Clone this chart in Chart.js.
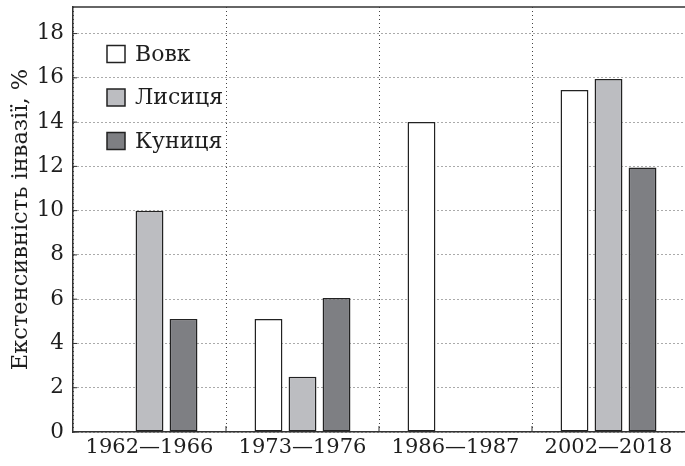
<!DOCTYPE html>
<html>
<head>
<meta charset="utf-8">
<script src="https://cdn.jsdelivr.net/npm/chart.js"></script>
<style>
  html, body { margin: 0; padding: 0; background: #fff; }
  #wrap { width: 685px; height: 466px; }
</style>
</head>
<body>
<div id="wrap"><canvas id="chart" width="685" height="466"></canvas></div>
<script>
// data
const periods = ["1962\u20141966", "1973\u20141976", "1986\u20141987", "2002\u20142018"];
const wolf    = [null, 5.1, 14.0, 15.45];
const fox     = [10.0, 2.5, null, 15.95];
const marten  = [5.1, 6.05, null, 11.95];
const seriesNames = ["Вовк", "Лисиця", "Куниця"];
const yTicks = [0, 2, 4, 6, 8, 10, 12, 14, 16, 18];
const yTitle = "Екстенсивність інвазії, %";

const FONT = "'DejaVu Serif', serif";
const INK = "#1e1e1e";

// legend drawn inside the plot area, plus the top frame line and small axis ticks
const decorations = {
  id: "decorations",
  afterDraw(chart) {
    const ctx = chart.ctx, a = chart.chartArea;
    ctx.save();
    // top frame
    ctx.strokeStyle = "#333";
    ctx.lineWidth = 1.5;
    ctx.beginPath();
    ctx.moveTo(a.left, a.top);
    ctx.lineTo(a.right, a.top);
    ctx.stroke();
    // short inner ticks on the y axis
    ctx.lineWidth = 1;
    const ys = chart.scales.y;
    ys.ticks.forEach(t => {
      const py = ys.getPixelForValue(t.value);
      ctx.beginPath();
      ctx.moveTo(a.left, py);
      ctx.lineTo(a.left + 4, py);
      ctx.stroke();
    });
    // short inner ticks at category boundaries on the x axis
    const xs = chart.scales.x;
    for (let i = 1; i < periods.length; i++) {
      const px = (xs.getPixelForValue(i - 1) + xs.getPixelForValue(i)) / 2;
      ctx.beginPath();
      ctx.moveTo(px, a.bottom);
      ctx.lineTo(px, a.bottom - 6);
      ctx.stroke();
    }
    // legend
    ctx.font = "22px " + FONT;
    ctx.textBaseline = "middle";
    ctx.textAlign = "left";
    chart.data.datasets.forEach((ds, i) => {
      const cy = a.top + 47 + i * 43.5;
      const bx = a.left + 34;
      ctx.fillStyle = ds.backgroundColor;
      ctx.fillRect(bx, cy - 8.5, 18, 17);
      ctx.strokeStyle = "#222";
      ctx.lineWidth = 1.5;
      ctx.strokeRect(bx, cy - 8.5, 18, 17);
      ctx.fillStyle = INK;
      ctx.fillText(ds.label, bx + 28, cy + 1);
    });
    ctx.restore();
  }
};

const barStyle = { borderColor: "#222", borderWidth: 1.5, borderSkipped: false,
                   barPercentage: 0.82, categoryPercentage: 0.667 };

new Chart(document.getElementById("chart"), {
  type: "bar",
  data: {
    labels: periods,
    datasets: [
      Object.assign({ label: seriesNames[0], data: wolf,   backgroundColor: "#ffffff" }, barStyle),
      Object.assign({ label: seriesNames[1], data: fox,    backgroundColor: "#bcbdc1" }, barStyle),
      Object.assign({ label: seriesNames[2], data: marten, backgroundColor: "#7e7f83" }, barStyle)
    ]
  },
  options: {
    responsive: false,
    animation: false,
    layout: { padding: { top: 7, right: 0, left: 0, bottom: 0 } },
    plugins: { legend: { display: false }, tooltip: { enabled: false } },
    scales: {
      x: {
        afterFit(s) { s.height = 34; s.paddingLeft = 0; s.paddingRight = 0; },
        grid: { display: true, offset: true, color: "#444", lineWidth: 1, drawTicks: false },
        border: { display: true, color: "#333", width: 1.5, dash: [1, 3] },
        ticks: { color: INK, font: { family: FONT, size: 21 }, padding: 3 }
      },
      y: {
        min: 0,
        max: 19.2,
        afterFit(s) { s.width = 73; s.paddingTop = 0; s.paddingBottom = 0; },
        afterBuildTicks(s) { s.ticks = yTicks.map(v => ({ value: v })); },
        grid: { color: "#555", lineWidth: 1, drawTicks: false },
        border: { display: true, color: "#333", width: 1.5, dash: [1, 3] },
        ticks: { color: INK, font: { family: FONT, size: 21.5 }, padding: 9 },
        title: { display: true, text: yTitle, color: INK,
                 font: { family: FONT, size: 22.5 }, padding: { top: 8, bottom: 0 } }
      }
    }
  },
  plugins: [decorations]
});
</script>
